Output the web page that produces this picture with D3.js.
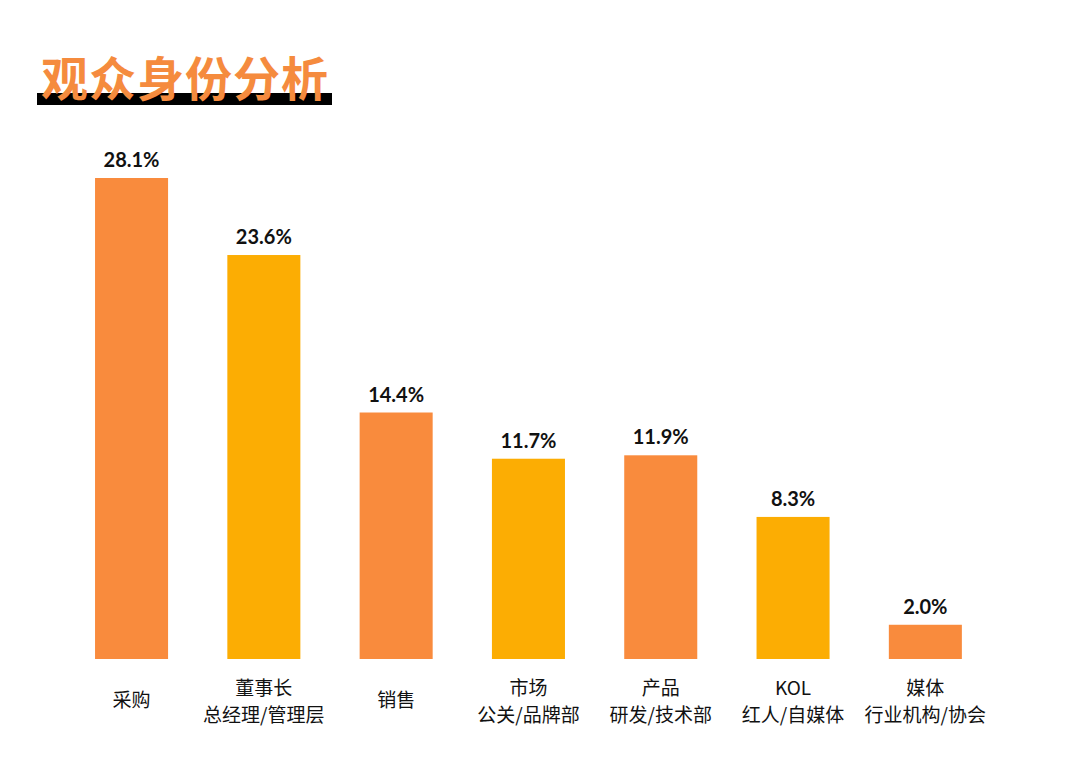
<!DOCTYPE html>
<html>
<head>
<meta charset="utf-8">
<script src="https://cdn.jsdelivr.net/npm/d3@7"></script>
<style>
  html, body { margin: 0; padding: 0; background: #fff; }
  svg { display: block; }
</style>
</head>
<body>
<svg id="chart" width="1080" height="784"></svg>
<script>
const title = "观众身份分析";
const categories = ["采购", "董事长\n总经理/管理层", "销售", "市场\n公关/品牌部", "产品\n研发/技术部", "KOL\n红人/自媒体", "媒体\n行业机构/协会"];
const values = [28.1, 23.6, 14.4, 11.7, 11.9, 8.3, 2.0];
const valueLabels = ["28.1%", "23.6%", "14.4%", "11.7%", "11.9%", "8.3%", "2.0%"];
const colors = ["#F98B3D", "#FCAD03"];

const svg = d3.select("#chart");

// Title
svg.append("rect").attr("x", 37).attr("y", 93).attr("width", 295).attr("height", 12).attr("fill", "#000");
svg.append("text")
  .attr("x", 41).attr("y", 96)
  .attr("font-family", "'Noto Sans CJK SC', sans-serif")
  .attr("font-weight", 700)
  .attr("font-size", 47)
  .attr("letter-spacing", 1)
  .attr("fill", "#F58B3E")
  .text(title);

const baseline = 659;
const x = d3.scaleBand()
  .domain(categories)
  .range([65.4, 991.5])
  .paddingInner(0.448)
  .paddingOuter(0.224);

const y = d3.scaleLinear().domain([0, 28.1]).range([baseline, 178]);

const data = categories.map((c, i) => ({ c, v: values[i], label: valueLabels[i], i }));

svg.selectAll("rect.bar").data(data).enter().append("rect")
  .attr("class", "bar")
  .attr("x", d => x(d.c))
  .attr("y", d => y(d.v))
  .attr("width", x.bandwidth())
  .attr("height", d => baseline - y(d.v))
  .attr("fill", d => colors[d.i % 2]);

svg.selectAll("text.val").data(data).enter().append("text")
  .attr("class", "val")
  .attr("x", d => x(d.c) + x.bandwidth() / 2)
  .attr("y", d => y(d.v) - 11)
  .attr("text-anchor", "middle")
  .attr("font-family", "Lato, sans-serif")
  .attr("font-weight", 700)
  .attr("font-size", 20)
  .attr("fill", "#111")
  .text(d => d.label);

svg.selectAll("text.lab").data(data).enter().append("text")
  .attr("class", "lab")
  .attr("text-anchor", "middle")
  .attr("font-family", "'Noto Sans CJK SC', sans-serif")
  .attr("font-size", 19)
  .attr("fill", "#111")
  .each(function(d) {
    const lines = d.c.split("\n");
    const t = d3.select(this);
    const cx = x(d.c) + x.bandwidth() / 2;
    const start = lines.length === 1 ? 706.6 : 694.6;
    lines.forEach((ln, k) => {
      t.append("tspan")
        .attr("x", cx)
        .attr("y", start + k * 27.8)
        .text(ln);
    });
  });
</script>
</body>
</html>
